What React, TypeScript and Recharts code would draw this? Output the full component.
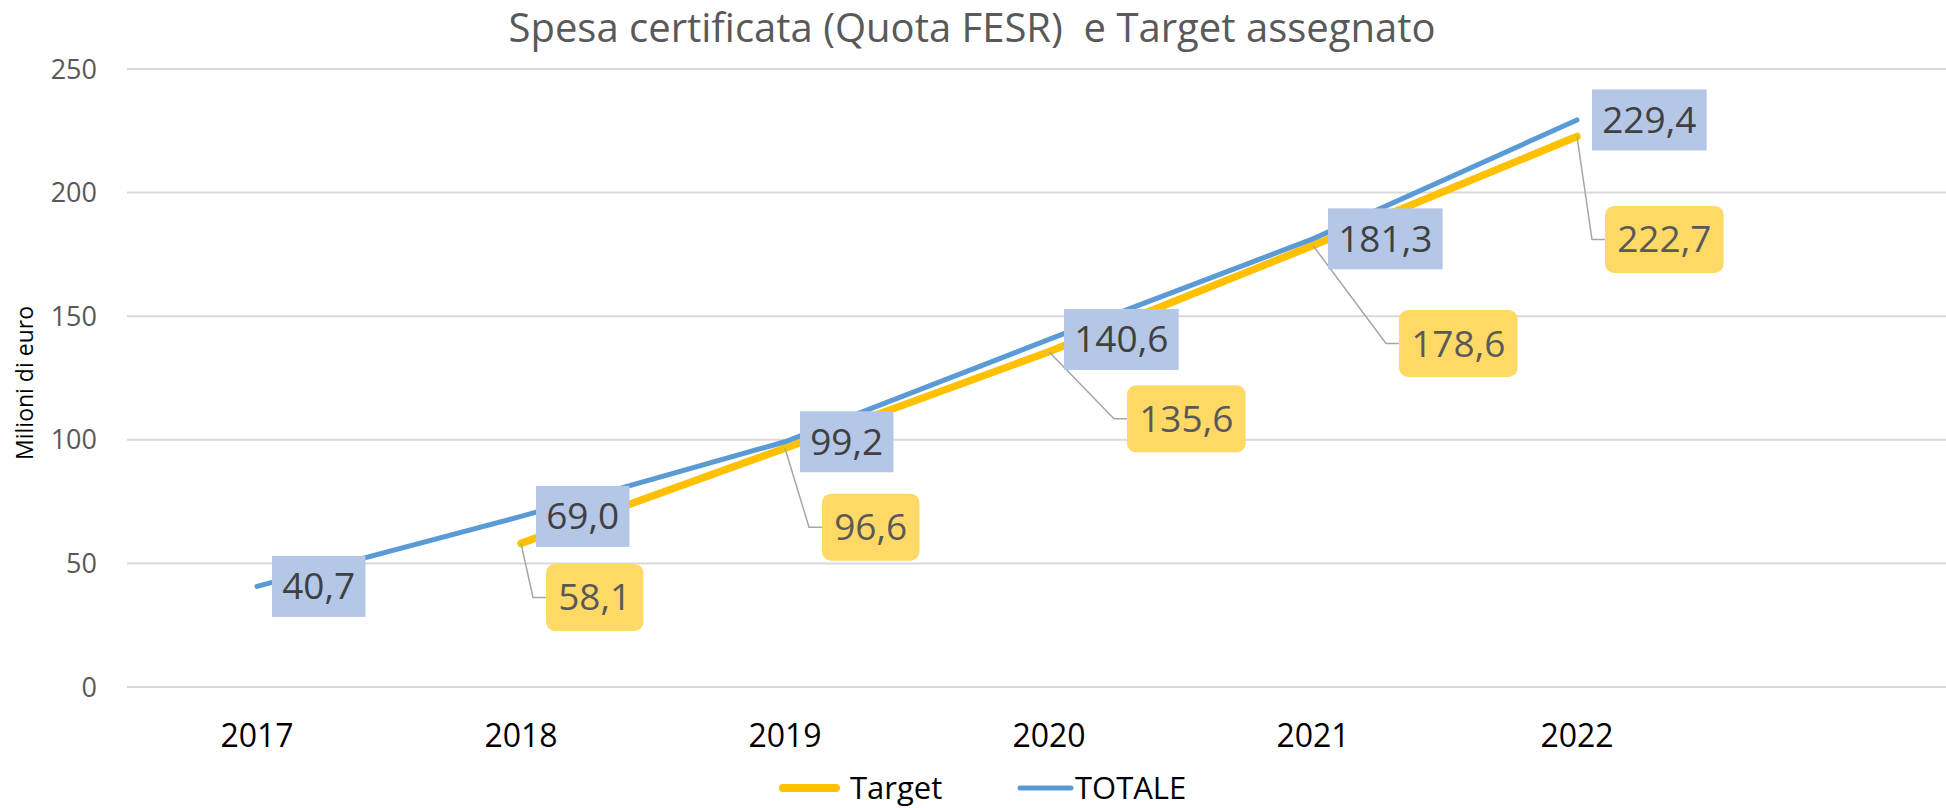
import React from 'react';
import { LineChart, Line, XAxis, YAxis, CartesianGrid, LabelList, Label } from 'recharts';

// ---- data ----
const years = ['2017', '2018', '2019', '2020', '2021', '2022'];
const totale = [40.7, 69.0, 99.2, 140.6, 181.3, 229.4];
const target: (number | null)[] = [null, 58.1, 96.6, 135.6, 178.6, 222.7];
const yTicks = [0, 50, 100, 150, 200, 250];
const seriesNames = ['Target', 'TOTALE'];
const chartTitle = 'Spesa certificata (Quota FESR)  e Target assegnato';
const yAxisTitle = 'Milioni di euro';

// hand-moved label offsets of the Target data labels (relative to their point)
const targetLabelOffsets: ([number, number] | null)[] = [null, [25, 54], [37, 79], [78, 67], [86, 98], [28, 103]];

const data = years.map((y, i) => ({ year: y, Target: target[i], TOTALE: totale[i] }));

const FONT = "'Open Sans', 'Noto Sans', sans-serif";
const BLUE = '#5B9BD5';
const YELLOW = '#FFC000';

const fmt = (v: number) => v.toFixed(1).replace('.', ',');
const textW = (s: string, fs: number) =>
  Array.from(s).reduce((a, c) => a + (c === ',' ? 0.27 : 0.572) * fs, 0);

const LABEL_FS = 37;

const BlueLabel = (p: any) => {
  const { x, y, value } = p;
  if (value == null || x == null || y == null) return null;
  const s = fmt(Number(value));
  const w = textW(s, LABEL_FS) + 20;
  const h = 61;
  const left = x + 15;
  return (
    <g>
      <rect x={left} y={y - h / 2} width={w} height={h} fill="#B4C7E7" />
      <text x={left + w / 2} y={y + 13} textAnchor="middle" fontSize={LABEL_FS} fill="#404040" fontFamily={FONT}>
        {s}
      </text>
    </g>
  );
};

const YellowLabel = (p: any) => {
  const { x, y, value } = p;
  if (value == null || x == null || y == null) return null;
  let idx = typeof p.index === 'number' ? p.index : target.indexOf(Number(value));
  const off = targetLabelOffsets[idx];
  if (!off) return null;
  const s = fmt(Number(value));
  const w = textW(s, LABEL_FS) + 24;
  const h = 67;
  const left = x + off[0];
  const cy = y + off[1];
  return (
    <g>
      <path d={`M${x},${y} L${left - 13},${cy} L${left},${cy}`} fill="none" stroke="#A6A6A6" strokeWidth={1.5} />
      <rect x={left} y={cy - h / 2} width={w} height={h} rx={9} ry={9} fill="#FFD966" />
      <text x={left + w / 2} y={cy + 13} textAnchor="middle" fontSize={LABEL_FS} fill="#595959" fontFamily={FONT}>
        {s}
      </text>
    </g>
  );
};

const YTitle = (p: any) => {
  const vb = p.viewBox || { x: 0, y: 0, width: 0, height: 0 };
  const cx = vb.x + 24;
  const cy = vb.y + vb.height / 2 + 5;
  return (
    <text
      x={cx}
      y={cy}
      transform={`rotate(-90 ${cx} ${cy})`}
      textAnchor="middle"
      dominantBaseline="central"
      fontSize={23}
      fill="#000"
      fontFamily={FONT}
    >
      {yAxisTitle}
    </text>
  );
};

export default function App() {
  return (
    <div style={{ position: 'absolute', left: 0, top: 0, width: 1946, height: 808, background: '#fff', overflow: 'hidden' }}>
      <LineChart width={1946} height={808} data={data} margin={{ top: 69, right: 0, bottom: 61, left: 0 }}>
        <CartesianGrid vertical={false} stroke="#D9D9D9" strokeWidth={2} />
        <XAxis
          dataKey="year"
          scale="point"
          padding={{ left: 130, right: 369 }}
          tickLine={false}
          axisLine={false}
          tickSize={0}
          tickMargin={37}
          height={60}
          interval={0}
          tick={{ fontSize: 32, fill: '#000', fontFamily: FONT }}
        />
        <YAxis
          domain={[0, 250]}
          ticks={yTicks}
          width={127}
          tickLine={false}
          axisLine={false}
          tickSize={0}
          tickMargin={30}
          tick={{ fontSize: 27, fill: '#595959', fontFamily: FONT }}
        >
          <Label content={YTitle} />
        </YAxis>
        <Line
          dataKey="Target"
          name={seriesNames[0]}
          stroke={YELLOW}
          strokeWidth={7.5}
          strokeLinecap="round"
          dot={false}
          activeDot={false}
          isAnimationActive={false}
        >
          <LabelList dataKey="Target" content={YellowLabel} />
        </Line>
        <Line
          dataKey="TOTALE"
          name={seriesNames[1]}
          stroke={BLUE}
          strokeWidth={5}
          strokeLinecap="round"
          dot={false}
          activeDot={false}
          isAnimationActive={false}
        >
          <LabelList dataKey="TOTALE" content={BlueLabel} />
        </Line>
      </LineChart>
      <svg width={1946} height={808} style={{ position: 'absolute', left: 0, top: 0, pointerEvents: 'none' }}>
        <text x={972} y={42} textAnchor="middle" fontSize={40} fill="#595959" fontFamily={FONT} style={{ whiteSpace: 'pre' }}>
          {chartTitle}
        </text>
        <line x1={783} y1={788} x2={836} y2={788} stroke={YELLOW} strokeWidth={8} strokeLinecap="round" />
        <text x={850} y={799} fontSize={31} fill="#000" fontFamily={FONT}>{seriesNames[0]}</text>
        <line x1={1020} y1={788} x2={1071} y2={788} stroke={BLUE} strokeWidth={5} strokeLinecap="round" />
        <text x={1075} y={799} fontSize={31} fill="#000" fontFamily={FONT}>{seriesNames[1]}</text>
      </svg>
    </div>
  );
}
